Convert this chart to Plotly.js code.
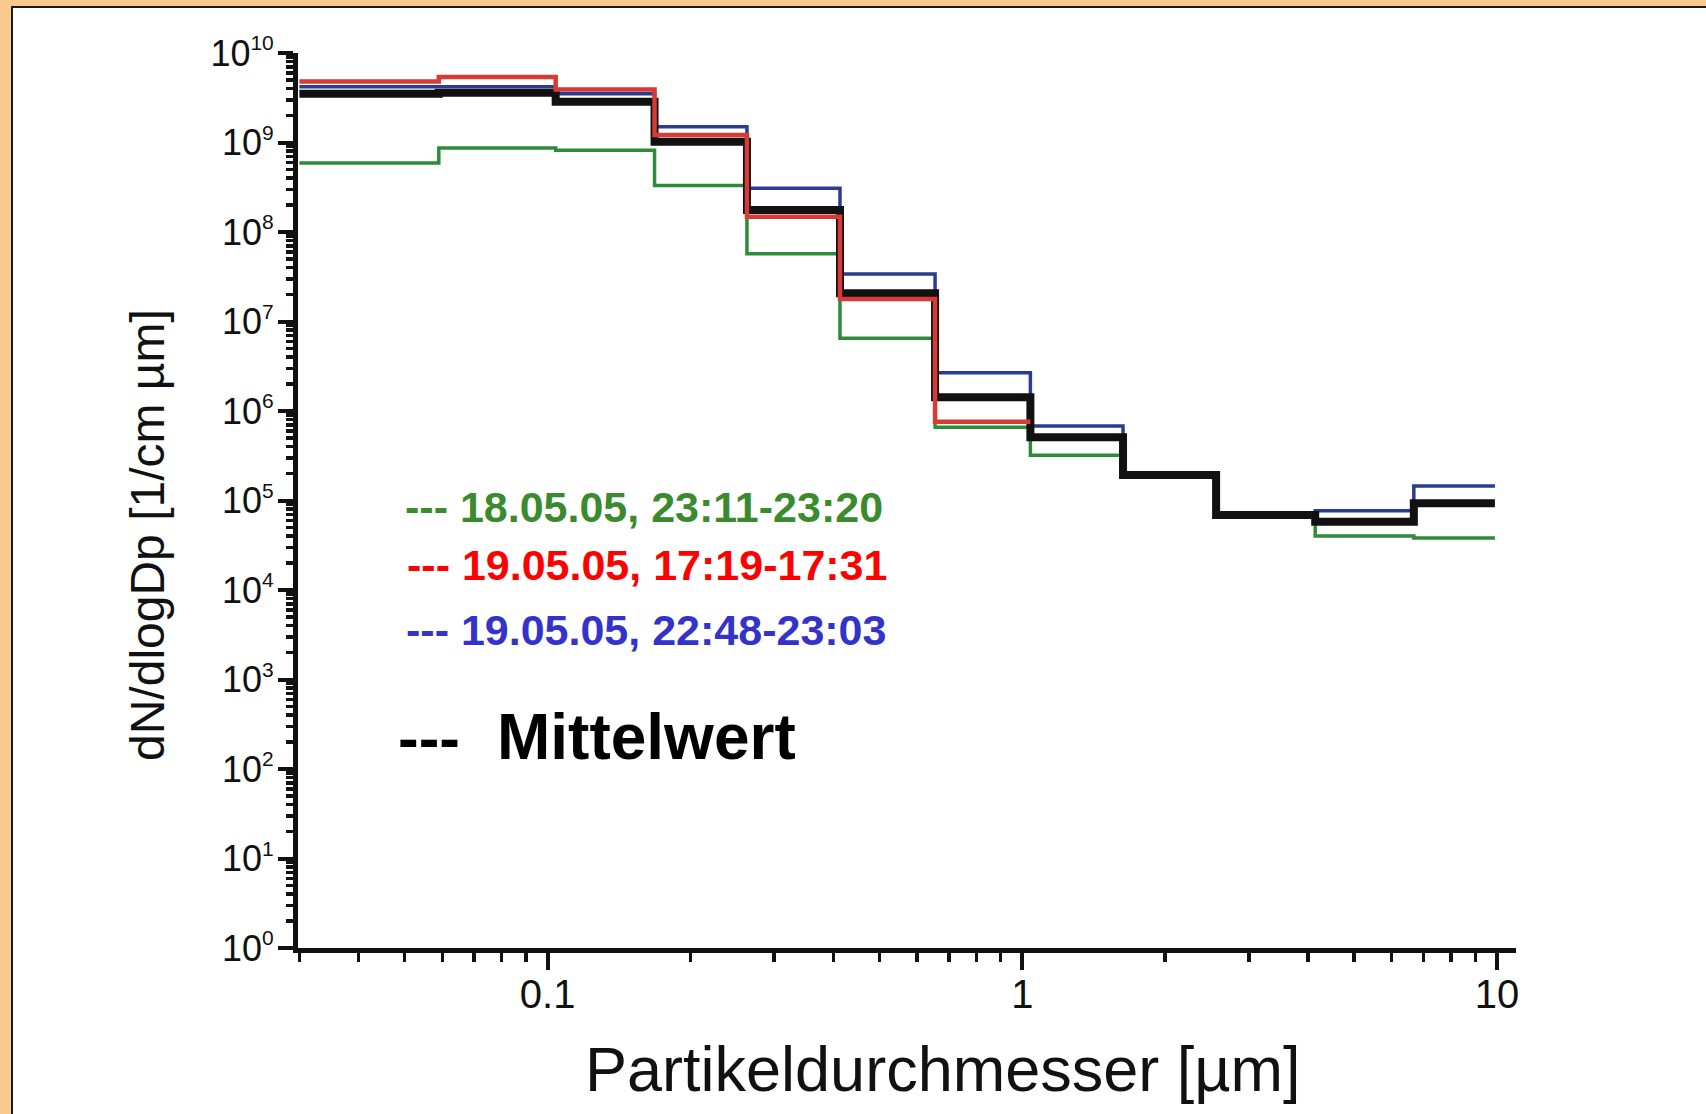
<!DOCTYPE html>
<html>
<head>
<meta charset="utf-8">
<script src="https://cdn.plot.ly/plotly-3.0.1.min.js"></script>
<style>
  html, body { margin: 0; padding: 0; background: #ffffff; }
  #wrap { position: relative; width: 1706px; height: 1114px; overflow: hidden; }
  #chart { position: absolute; left: 0; top: 0; width: 1706px; height: 1114px; }
  .fr { position: absolute; pointer-events: none; }
</style>
</head>
<body>
<div id="wrap">
  <div id="chart"></div>
  <div class="fr" style="left:0;top:0;width:1706px;height:6px;background:#F8C98F;"></div>
  <div class="fr" style="left:0;top:0;width:11px;height:1114px;background:#F8C98F;"></div>
  <div class="fr" style="left:11px;top:6px;width:1695px;height:2px;background:#1a1a1a;"></div>
  <div class="fr" style="left:11px;top:6px;width:2px;height:1108px;background:#1a1a1a;"></div>
</div>
<script>
// Bin edges of the impactor stages (µm)
const binEdges = [0.03, 0.059, 0.104, 0.168, 0.263, 0.413, 0.655, 1.04, 1.63, 2.56, 4.14, 6.68, 9.9];

// dN/dlogDp per bin
const series1Name = "--- 18.05.05, 23:11-23:20";
const series1 = [5.9e8, 8.7e8, 8.2e8, 3.3e8, 5.7e7, 6.5e6, 6.6e5, 3.2e5, 1.93e5, 6.9e4, 4.0e4, 3.8e4];

const series2Name = "--- 19.05.05, 17:19-17:31";
const series2 = [4.8e9, 5.4e9, 3.9e9, 1.21e9, 1.48e8, 1.78e7, 7.6e5];

const series3Name = "--- 19.05.05, 22:48-23:03";
const series3 = [4.2e9, 4.2e9, 3.5e9, 1.5e9, 3.08e8, 3.4e7, 2.68e6, 6.8e5, 1.93e5, 6.9e4, 7.7e4, 1.45e5];

const meanName = "Mittelwert";
const meanSeries = [3.5e9, 3.6e9, 2.86e9, 1.02e9, 1.76e8, 2.07e7, 1.42e6, 5.1e5, 1.93e5, 6.9e4, 5.8e4, 9.3e4];

// Axis titles and tick labels
const xTitle = "Partikeldurchmesser [µm]";
const yTitle = "dN/dlogDp [1/cm µm]";
const xTickVals = [0.1, 1, 10];
const xTickText = ["0.1", "1", "10"];
const yTickVals = [1, 10, 100, 1e3, 1e4, 1e5, 1e6, 1e7, 1e8, 1e9, 1e10];
const yTickExp = ["0", "1", "2", "3", "4", "5", "6", "7", "8", "9", "10"];
const yTickText = yTickExp.map(e => "10<sup><span style='font-size:21px'>" + e + "</span></sup>");

// minor tick positions (2..9 x 10^n)
function minorTicks(lo, hi) {
  const out = [];
  for (let e = lo; e <= hi; e++) for (let m = 2; m <= 9; m++) out.push(m * Math.pow(10, e));
  return out;
}
const xMinor = [0.03].concat(minorTicks(-2, 0).filter(v => v > 0.03 && v < 10));
const yMinor = minorTicks(0, 9);

function stepTrace(values, name, color, width) {
  const n = values.length;
  const x = binEdges.slice(0, n + 1);
  const y = values.concat([values[n - 1]]);
  return { x: x, y: y, type: "scatter", mode: "lines", name: name,
           line: { shape: "hv", color: color, width: width }, hoverinfo: "x+y+name" };
}

const traces = [
  stepTrace(series1, series1Name, "#2E8B3A", 3.5),
  stepTrace(series3, series3Name, "#2B3C92", 3.5),
  stepTrace(meanSeries, meanName, "#111111", 8),
  stepTrace(series2, series2Name, "#D83A35", 4.5)
];

const W = 1706, H = 1114;
const L = 298, R = 1516, T = 53, B = 948;
function px(x) { return (x - L) / (R - L); }
function py(y) { return (B - y) / (B - T); }

const font = "Liberation Sans, Arial, Helvetica, sans-serif";

const layout = {
  width: W, height: H,
  margin: { l: L, r: W - R, t: T, b: H - B, pad: 0 },
  paper_bgcolor: "#ffffff", plot_bgcolor: "#ffffff",
  showlegend: false,
  font: { family: font, color: "#111111" },
  xaxis: {
    type: "log", range: [Math.log10(0.0298), 1.04],
    showline: true, linewidth: 5, linecolor: "#111111",
    showgrid: false, zeroline: false,
    ticks: "outside", ticklen: 17, tickwidth: 4, tickcolor: "#111111",
    tickvals: xTickVals, ticktext: xTickText,
    tickfont: { size: 40, family: font, color: "#111111" },
    ticklabelstandoff: -10,
    minor: { tickvals: xMinor, ticks: "outside", ticklen: 9, tickwidth: 3.5, tickcolor: "#111111", showgrid: false },
    automargin: false
  },
  yaxis: {
    type: "log", range: [0, 10],
    showline: true, linewidth: 5, linecolor: "#111111",
    showgrid: false, zeroline: false,
    ticks: "outside", ticklen: 15, tickwidth: 4, tickcolor: "#111111",
    tickvals: yTickVals, ticktext: yTickText,
    tickfont: { size: 36, family: font, color: "#111111" },
    ticklabelstandoff: -3,
    minor: { tickvals: yMinor, ticks: "outside", ticklen: 7, tickwidth: 3.5, tickcolor: "#111111", showgrid: false },
    automargin: false
  },
  annotations: [
    { xref: "paper", yref: "paper", x: px(943), y: py(1069), xanchor: "center", yanchor: "middle", showarrow: false,
      text: xTitle, font: { size: 63, family: font, color: "#111111" } },
    { xref: "paper", yref: "paper", x: px(147), y: py(535), xanchor: "center", yanchor: "middle", showarrow: false,
      textangle: -90, text: yTitle, font: { size: 48, family: font, color: "#111111" } },
    { xref: "paper", yref: "paper", x: px(403), y: py(507), xanchor: "left", yanchor: "middle", showarrow: false,
      text: "<b>" + series1Name + "</b>", font: { size: 43, family: font, color: "#3A8A2E" } },
    { xref: "paper", yref: "paper", x: px(405), y: py(565), xanchor: "left", yanchor: "middle", showarrow: false,
      text: "<b>" + series2Name + "</b>", font: { size: 43, family: font, color: "#FF0000" } },
    { xref: "paper", yref: "paper", x: px(404), y: py(630), xanchor: "left", yanchor: "middle", showarrow: false,
      text: "<b>" + series3Name + "</b>", font: { size: 43, family: font, color: "#3333CC" } },
    { xref: "paper", yref: "paper", x: px(396), y: py(737), xanchor: "left", yanchor: "middle", showarrow: false,
      text: "<b>---</b>", font: { size: 62, family: font, color: "#000000" } },
    { xref: "paper", yref: "paper", x: px(495), y: py(737), xanchor: "left", yanchor: "middle", showarrow: false,
      text: "<b>" + meanName + "</b>", font: { size: 64, family: font, color: "#000000" } }
  ]
};

Plotly.newPlot("chart", traces, layout, { staticPlot: true, displayModeBar: false });
</script>
</body>
</html>
